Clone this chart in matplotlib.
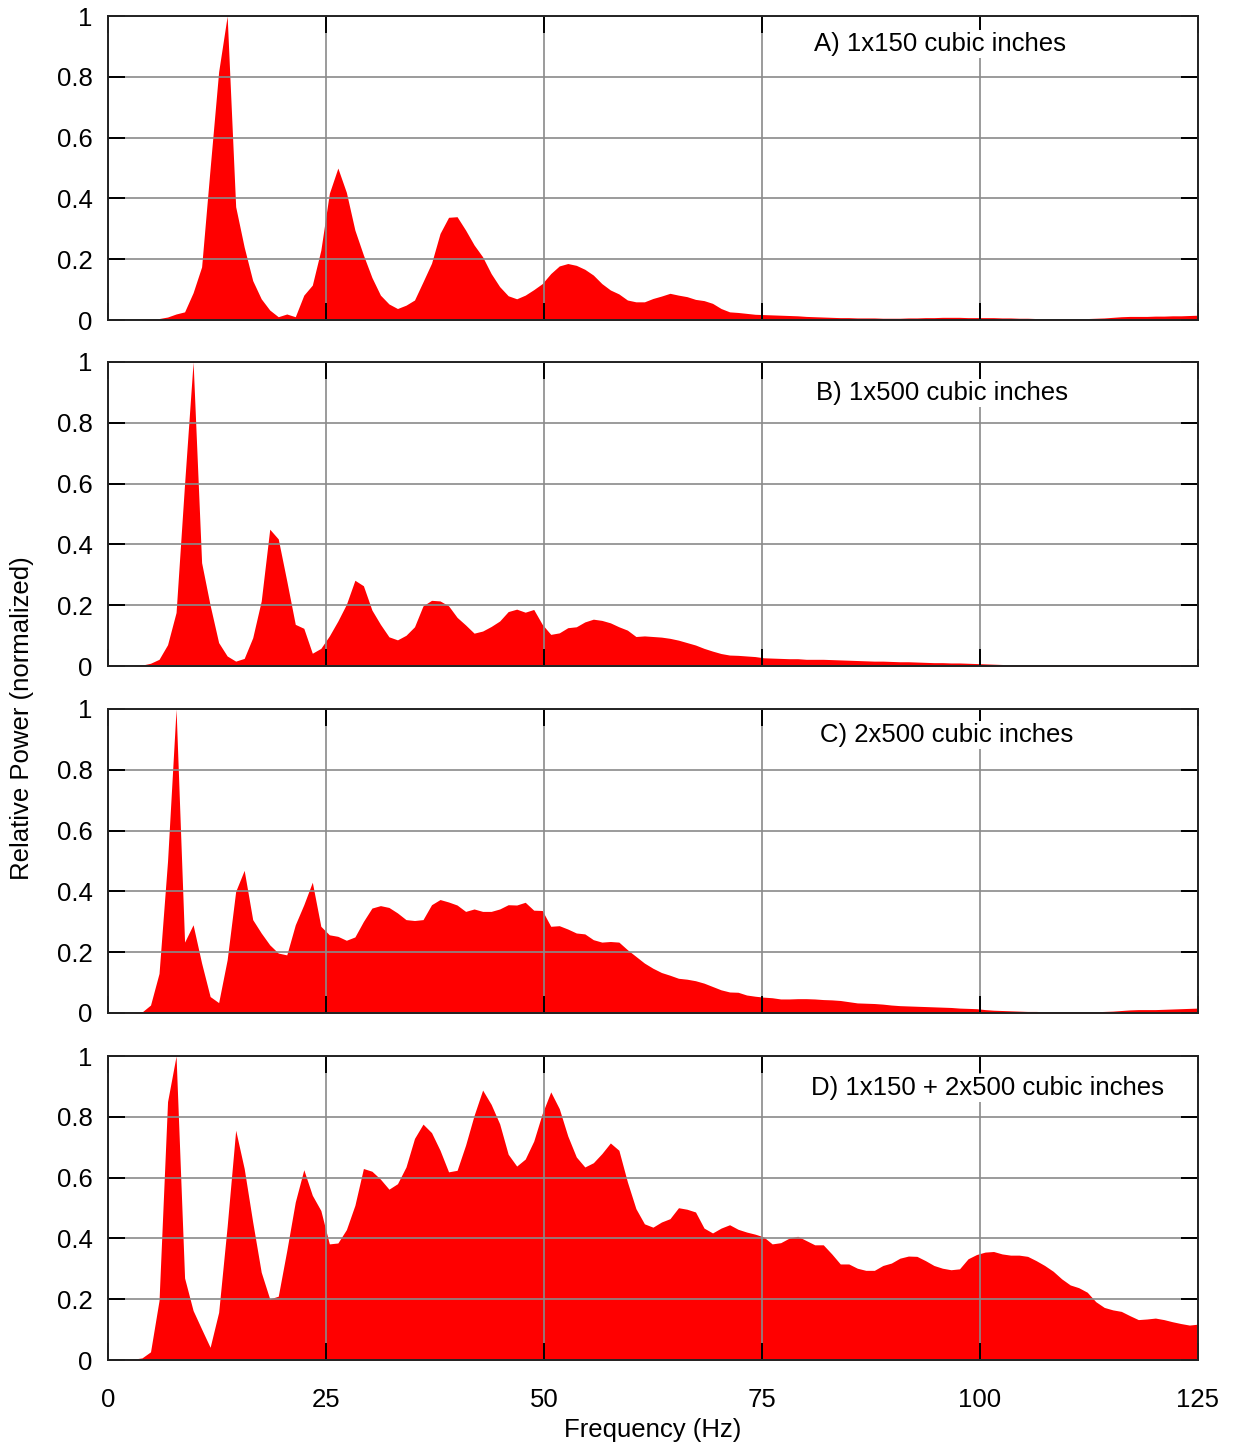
import matplotlib.pyplot as plt
import numpy as np

plt.rcParams['font.family'] = ['Liberation Sans', 'DejaVu Sans']

# ---------------------------------
# Spectra: one value per FFT bin (bin width 125/128 Hz), normalised to peak
# ---------------------------------
bin_width = 125 / 128

power_1x150 = [
    0, 0, 0, 0, 0, 0.002, 0.005, 0.01, 0.02, 0.027,
    0.09, 0.175, 0.50, 0.817, 1.0, 0.373, 0.24, 0.13, 0.07, 0.033,
    0.011, 0.02, 0.011, 0.082, 0.115, 0.23, 0.417, 0.50, 0.42, 0.296,
    0.214, 0.14, 0.082, 0.053, 0.038, 0.049, 0.066, 0.126, 0.187, 0.285,
    0.338, 0.34, 0.296, 0.247, 0.208, 0.153, 0.11, 0.08, 0.07, 0.082,
    0.10, 0.12, 0.153, 0.178, 0.186, 0.18, 0.167, 0.148, 0.12, 0.099,
    0.086, 0.066, 0.06, 0.06, 0.071, 0.079, 0.088, 0.082, 0.077, 0.068,
    0.064, 0.055, 0.038, 0.027, 0.025, 0.022, 0.019, 0.018, 0.017, 0.016,
    0.015, 0.014, 0.012, 0.011, 0.010, 0.009, 0.008, 0.008, 0.007, 0.007,
    0.007, 0.006, 0.006, 0.006, 0.007, 0.007, 0.008, 0.008, 0.009, 0.009,
    0.009, 0.008, 0.008, 0.008, 0.008, 0.007, 0.007, 0.006, 0.006, 0.005,
    0.005, 0.005, 0.005, 0.005, 0.005, 0.005, 0.006, 0.007, 0.009, 0.011,
    0.012, 0.012, 0.012, 0.013, 0.013, 0.014, 0.014, 0.015, 0.016,
]

power_1x500 = [
    0, 0, 0, 0, 0.003, 0.009, 0.022, 0.07, 0.176, 0.60,
    1.0, 0.34, 0.20, 0.077, 0.033, 0.016, 0.025, 0.093, 0.214, 0.45,
    0.418, 0.28, 0.137, 0.124, 0.042, 0.058, 0.099, 0.148, 0.203, 0.282,
    0.264, 0.184, 0.137, 0.096, 0.086, 0.101, 0.129, 0.198, 0.216, 0.214,
    0.198, 0.16, 0.135, 0.108, 0.115, 0.13, 0.148, 0.179, 0.187, 0.177,
    0.186, 0.137, 0.104, 0.109, 0.126, 0.129, 0.145, 0.154, 0.15, 0.142,
    0.129, 0.118, 0.097, 0.099, 0.097, 0.095, 0.091, 0.085, 0.077, 0.069,
    0.058, 0.049, 0.041, 0.036, 0.035, 0.033, 0.031, 0.027, 0.026, 0.025,
    0.024, 0.024, 0.022, 0.022, 0.022, 0.021, 0.02, 0.019, 0.018, 0.017,
    0.016, 0.016, 0.015, 0.014, 0.014, 0.013, 0.012, 0.011, 0.011, 0.01,
    0.01, 0.009, 0.008, 0.007, 0.006, 0.005, 0.004, 0.003, 0.003, 0.002,
    0.002, 0.002, 0.001, 0.001, 0.001, 0.001, 0.001, 0.002, 0.002, 0.002,
    0.003, 0.003, 0.003, 0.003, 0.003, 0.003, 0.003, 0.003, 0.004,
]

power_2x500 = [
    0, 0, 0, 0.001, 0.003, 0.026, 0.13, 0.50, 1.0, 0.233,
    0.29, 0.164, 0.054, 0.034, 0.175, 0.40, 0.469, 0.307, 0.263, 0.224,
    0.197, 0.191, 0.29, 0.356, 0.43, 0.285, 0.257, 0.252, 0.239, 0.25,
    0.301, 0.345, 0.353, 0.347, 0.329, 0.307, 0.304, 0.307, 0.356, 0.373,
    0.365, 0.355, 0.334, 0.342, 0.334, 0.334, 0.342, 0.356, 0.355, 0.364,
    0.338, 0.337, 0.285, 0.287, 0.276, 0.263, 0.26, 0.241, 0.233, 0.235,
    0.233, 0.208, 0.186, 0.164, 0.147, 0.133, 0.124, 0.114, 0.111, 0.106,
    0.098, 0.087, 0.076, 0.069, 0.068, 0.059, 0.055, 0.052, 0.05, 0.046,
    0.046, 0.047, 0.047, 0.046, 0.044, 0.043, 0.041, 0.037, 0.033, 0.032,
    0.031, 0.029, 0.026, 0.024, 0.023, 0.022, 0.021, 0.02, 0.019, 0.018,
    0.016, 0.015, 0.014, 0.011, 0.009, 0.008, 0.007, 0.006, 0.005, 0.005,
    0.004, 0.003, 0.003, 0.003, 0.003, 0.003, 0.004, 0.005, 0.006, 0.008,
    0.01, 0.011, 0.011, 0.011, 0.012, 0.013, 0.014, 0.015, 0.016,
]

power_combined = [
    0, 0, 0.001, 0.003, 0.007, 0.027, 0.196, 0.85, 1.0, 0.27,
    0.163, 0.102, 0.042, 0.157, 0.44, 0.756, 0.63, 0.454, 0.289, 0.201,
    0.21, 0.36, 0.52, 0.626, 0.542, 0.492, 0.382, 0.385, 0.429, 0.509,
    0.63, 0.621, 0.595, 0.562, 0.58, 0.635, 0.729, 0.776, 0.748, 0.69,
    0.619, 0.624, 0.707, 0.805, 0.888, 0.841, 0.777, 0.677, 0.638, 0.661,
    0.72, 0.811, 0.882, 0.827, 0.737, 0.668, 0.635, 0.649, 0.679, 0.714,
    0.69, 0.586, 0.498, 0.448, 0.437, 0.454, 0.465, 0.501, 0.496, 0.487,
    0.434, 0.418, 0.434, 0.445, 0.43, 0.421, 0.414, 0.405, 0.382, 0.386,
    0.401, 0.407, 0.393, 0.379, 0.379, 0.349, 0.316, 0.316, 0.302, 0.295,
    0.295, 0.311, 0.319, 0.335, 0.342, 0.341, 0.327, 0.311, 0.302, 0.297,
    0.30, 0.333, 0.347, 0.355, 0.357, 0.349, 0.345, 0.345, 0.341, 0.327,
    0.311, 0.292, 0.267, 0.247, 0.238, 0.223, 0.192, 0.173, 0.165, 0.16,
    0.146, 0.133, 0.135, 0.138, 0.133, 0.126, 0.12, 0.115, 0.118,
]

panel_labels = [
    "A) 1x150 cubic inches",
    "B) 1x500 cubic inches",
    "C) 2x500 cubic inches",
    "D) 1x150 + 2x500 cubic inches",
]
spectra = [power_1x150, power_1x500, power_2x500, power_combined]

x_ticks = [0, 25, 50, 75, 100, 125]
y_ticks = [0, 0.2, 0.4, 0.6, 0.8, 1]
y_ticklabels = ["0", "0.2", "0.4", "0.6", "0.8", "1"]

# ---------------------------------
# Layout: four stacked panels sharing the frequency axis
# ---------------------------------
fig = plt.figure(figsize=(12.35, 14.45), dpi=100)

left, width, height = 0.0874, 0.8826, 0.2104
bottoms = [0.7785, 0.5391, 0.2990, 0.0588]
# where each panel caption sits, in axes coordinates
label_pos = [(0.648, 0.908), (0.650, 0.899), (0.653, 0.915), (0.645, 0.896)]
fs = 18.5

for i, (power, label) in enumerate(zip(spectra, panel_labels)):
    ax = fig.add_axes([left, bottoms[i], width, height])
    power = np.asarray(power)
    freq = np.arange(len(power)) * bin_width

    ax.fill_between(freq, 0, power, color="#ff0000", linewidth=0, zorder=1)

    ax.set_xlim(0, 125)
    ax.set_ylim(0, 1)
    ax.set_xticks(x_ticks)
    ax.set_yticks(y_ticks)
    ax.set_yticklabels(y_ticklabels)

    # grid drawn over the filled spectrum
    ax.set_axisbelow(False)
    ax.grid(True, color="#8a8a8a", linewidth=1.2)

    ax.tick_params(direction="in", length=12, width=1.4, color="black",
                   top=True, right=True, labelsize=fs)
    ax.tick_params(axis="y", pad=11)
    ax.tick_params(axis="x", pad=20)
    if i < 3:
        ax.tick_params(axis="x", labelbottom=False)

    for spine in ax.spines.values():
        spine.set_linewidth(1.4)
        spine.set_color("#222222")
        spine.set_zorder(4)

    lx, ly = label_pos[i]
    ax.text(lx, ly, label, transform=ax.transAxes, fontsize=fs,
            ha="left", va="center", zorder=5,
            bbox=dict(facecolor="white", edgecolor="none", pad=1.5))

fig.text(0.5287, 1 - 1430 / 1445, "Frequency (Hz)", fontsize=fs,
         ha="center", va="center")
fig.text(22 / 1235, 0.503, "Relative Power (normalized)", fontsize=fs,
         rotation=90, ha="center", va="center")

fig.savefig("out.png", dpi=100)
